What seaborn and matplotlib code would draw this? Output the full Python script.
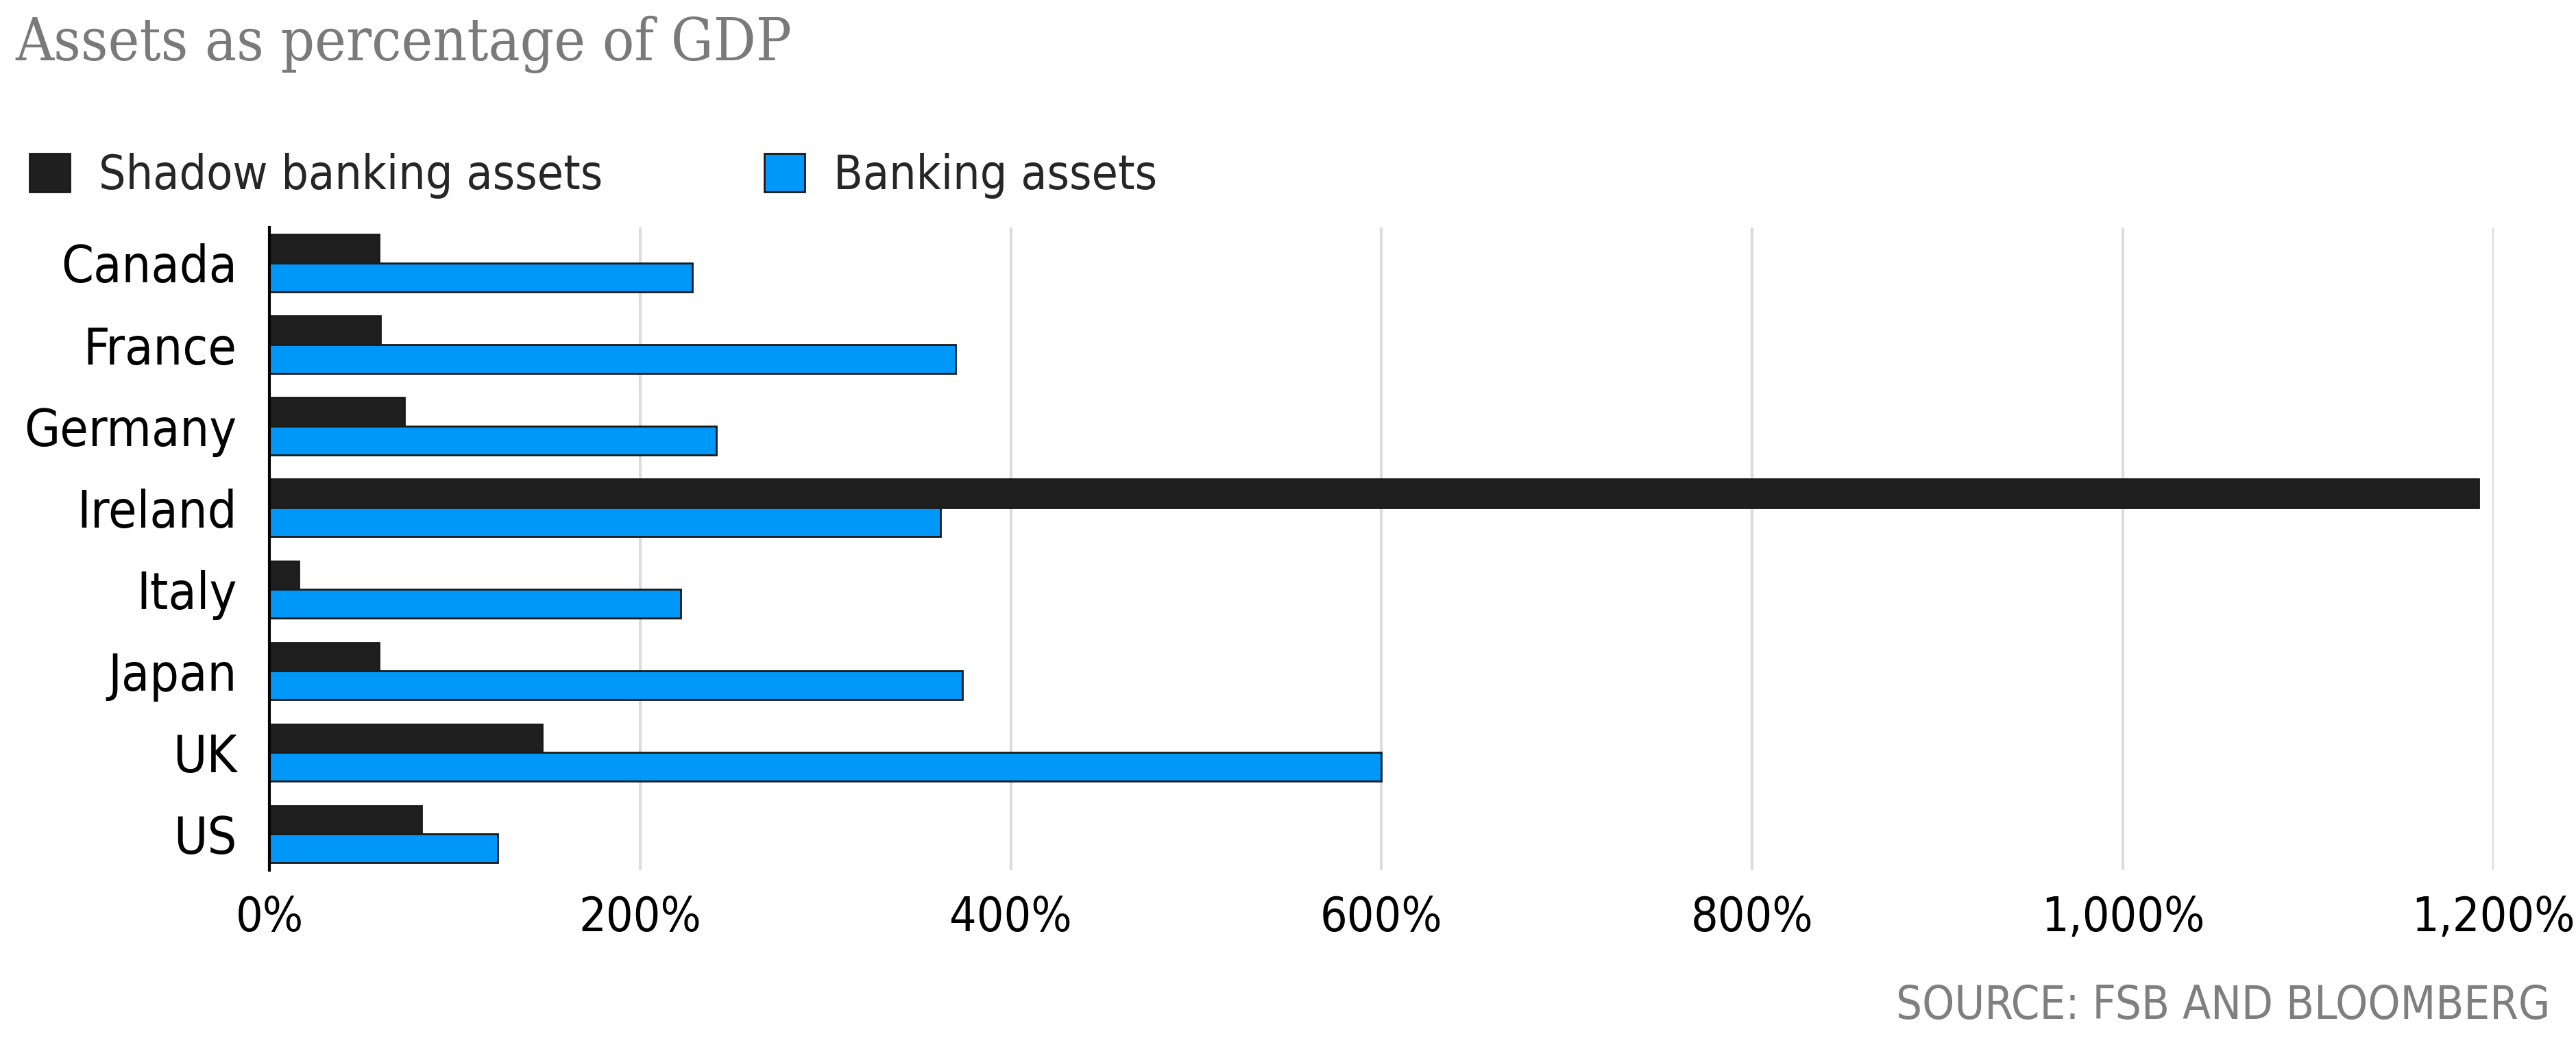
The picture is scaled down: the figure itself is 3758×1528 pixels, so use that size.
import numpy as np
import pandas as pd
import matplotlib
matplotlib.use("Agg")
import matplotlib.pyplot as plt
from matplotlib.ticker import FuncFormatter
import seaborn as sns

# chart data
countries = ["Canada", "France", "Germany", "Ireland", "Italy", "Japan", "UK", "US"]
shadow_assets = [59, 60, 73, 1192, 16, 59, 147, 82]
banking_assets = [228, 370, 241, 362, 222, 374, 600, 123]
series_names = ["Shadow banking assets", "Banking assets"]
x_ticks = [0, 200, 400, 600, 800, 1000, 1200]

title = "Assets as percentage of GDP"
source = "SOURCE: FSB AND BLOOMBERG"

df = pd.DataFrame({
    "country": countries * 2,
    "series": [series_names[0]] * len(countries) + [series_names[1]] * len(countries),
    "value": shadow_assets + banking_assets,
})

sns.set_theme(style="white")
plt.rcParams["font.family"] = ["DejaVu Sans"]
plt.rcParams["font.stretch"] = "condensed"

fig = plt.figure(figsize=(37.58, 15.28), dpi=100)
ax = fig.add_axes([0.1046, 0.169, 0.968 - 0.1046, 0.783 - 0.169])

palette = {series_names[0]: "#1f1f1f", series_names[1]: "#0098f8"}
sns.barplot(data=df, y="country", x="value", hue="series", orient="h",
            palette=palette, width=0.70, edgecolor="#1a1a1a", linewidth=2,
            saturation=1, ax=ax)

ax.set_xlim(0, 1200)
ax.set_ylim(7.44, -0.44)
ax.set_xticks(x_ticks)
ax.xaxis.set_major_formatter(FuncFormatter(lambda v, _: f"{v:,.0f}%"))
ax.grid(axis="x", color="#dcdcdc", linewidth=3)
ax.grid(axis="y", visible=False)
ax.set_axisbelow(True)
ax.set_xlabel("")
ax.set_ylabel("")

for side in ["top", "right", "bottom"]:
    ax.spines[side].set_visible(False)
ax.spines["left"].set_color("black")
ax.spines["left"].set_linewidth(3)

ax.tick_params(axis="y", length=0, pad=34, labelsize=54, labelcolor="black")
ax.tick_params(axis="x", length=0, pad=26, labelsize=50, labelcolor="black")

handles, labels = ax.get_legend_handles_labels()
ax.legend(handles, labels, loc="center left", bbox_to_anchor=(0.004, 0.832),
          bbox_transform=fig.transFigure, ncol=2, frameon=False, fontsize=50,
          handlelength=0.85, handleheight=0.85, handletextpad=0.6,
          columnspacing=3.4, borderaxespad=0)

fig.text(0.006, 0.985, title, ha="left", va="top", fontsize=62,
         color="#7a7a7a", family=["DejaVu Serif"], stretch="condensed")
fig.text(0.99, 0.039, source, ha="right", va="center", fontsize=48,
         color="#7f7f7f")

fig.savefig("out.png", dpi=100)
